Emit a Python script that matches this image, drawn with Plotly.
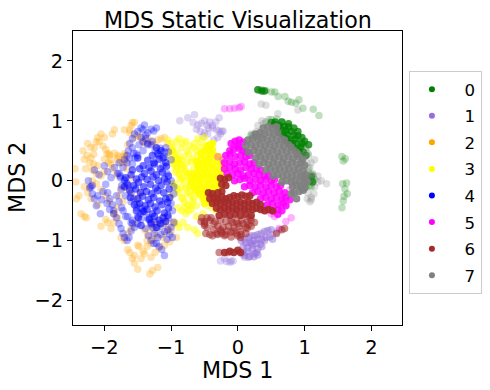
import plotly.graph_objects as go

labels = ["0", "1", "2", "3", "4", "5", "6", "7"]
colors = ["green", "mediumpurple", "orange", "yellow", "blue", "magenta", "brown", "gray"]

x0 = [.305,.355,.42,.505,.555,.605,.705,.755,.805,.87,.915,.975,1.13,1.215,1.56,1.61,1.58,1.605,1.59,1.57,1.63,1.64,1.58,1.56,
      .22,.28,.36,.42,.5,.58,.66,.9,.98,1.02,1.05,1.06,1.1,1.08,1.12,1.1,1.0,.95,.2,.27,.33,1.13,1.15,1.08,1.02,.96]
y0 = [1.52,1.52,1.505,1.48,1.48,1.405,1.405,1.325,1.31,1.295,1.35,1.21,1.195,1.09,.405,.365,.33,-.14,-.26,-.05,-.04,-.22,-.34,-.45,
      .75,.76,.78,.98,1.02,1.03,.98,.68,.62,.55,.45,.2,.1,0,-.02,-.1,-.12,.55,.76,.74,.72,.08,.02,-.08,-.1,-.14]
x0d = [.3,.36,.4,.56,.62,.66,.7,.72,.76,.66,.74,.8,.84,.86,.9,.96,.62,.7,.78,.82,1.0,1.06,.76,.84,.9,.96,.72,.78,.88,.94,.86,.92,.98,1.02,.8,.74,.68,.5,.55,.6,1.1,1.12]
y0d = [1.52,1.5,1.5,.98,.92,.98,.9,.84,.9,.85,.78,.82,.76,.7,.75,.62,.8,.72,.68,.62,.66,.6,.95,.88,.82,.72,.66,.62,.62,.56,.54,.5,.48,.42,.58,.7,.76,.97,.94,.9,.07,-.02]

x1 = [-.87,-.75,-.65,-.67,-.6,-.55,-.5,-.46,-.42,-.38,-.32,-.28,-.24,-.62,-.56,-.5,-.44,-.38,-.33,-.28,-.26,-.22,-.3,-.36,-.45,-.52,
      -.26,-.17,-.1,-.07,-.12,.06,.1,.62,.58,.52,-.2]
y1 = [1.0,1.05,1.1,.97,.93,.96,1.0,.92,.98,.88,.85,.83,.82,.86,.82,.8,.88,.92,.98,1.05,.78,.83,.72,.68,.78,.74,
      -1.34,-1.35,-1.34,-1.34,-1.36,-1.22,-1.28,-.82,-.86,-.9,-1.3]
x1d = [.05,.1,.16,.2,.25,.3,.35,.4,.45,.5,.12,.18,.24,.3,.36,.42,.48,.08,.14,.22,.28,.34,.4,.52,.08,.15,.22,.3,.36,.1,.18,.25,.3,.16,.24,.28,.2]
y1d = [-1.0,-.98,-.95,-.92,-.92,-.9,-.88,-.85,-.83,-.82,-1.04,-1.03,-1.0,-.98,-.98,-.95,-.94,-1.1,-1.12,-1.08,-1.05,-1.06,-1.0,-.98,-1.2,-1.18,-1.15,-1.14,-1.1,-1.25,-1.26,-1.22,-1.24,-1.28,-1.27,-1.2,-1.05]

x2 = [-2.44,-2.43,-2.42,-2.38,-2.35,-2.3,-2.27,-2.22,-2.2,-2.16,-2.15,-2.12,-2.1,-2.08,-2.05,-2.0,-1.96,-1.92,-1.9,-1.88,-1.85,-1.8,-1.78,-1.72,-1.7,-1.68,-1.65,-1.62,-1.6,-1.58,-1.55,-1.5,-1.45,-1.42,-1.38,-1.35,-1.3,-1.25,-1.2,-1.15,-1.1,-1.05,-1.0,-.95,-.92,-1.62,-1.65,-1.58,-1.55,-1.5,-1.2,-1.28,-1.32,
      -2.28,-2.22,-2.18,-2.12,-2.05,-2.0,-1.94,-1.88,-1.82,-1.76,-1.7,-2.3,-2.25,-2.2,-2.1,-1.98,-1.9,-1.85,-2.32,-2.26,-2.3,-2.18,-2.12,-2.05,-1.98,-1.92,-1.75,-1.7,-1.65,-1.6,-1.54,-1.48,-1.42,-1.36,-1.3,-1.24,-1.18,-1.12,-1.06,-1.0,-1.78,-1.72,-1.82,-1.86,-1.75,-1.4,-1.35,-1.28,-1.22,
      -2.25,-2.2,-2.16,-2.02,-1.98,-1.93,-1.85,-1.8,-1.7,-1.66,-1.6,-1.7,-1.62,-1.55,-2.1,-2.0,-1.9,-1.95,-2.05,-1.8,-1.86,-1.3,-1.2,-1.1,-1.04,-.96,-1.66,-1.6,-1.52,-1.45,-1.36,-1.26,-1.16,-1.08,-1.55,-1.45,-1.4,-1.3,-1.5,-1.1,-1.02]
y2 = [.2,-.02,-.3,-.25,-.55,-.6,-.62,-.1,.38,.28,.55,.65,.72,.65,.78,.72,.45,.42,.35,.78,.85,.42,.4,.3,.45,.32,.6,.85,.92,.97,.97,.75,.72,.65,.62,.7,.65,.6,.68,.7,.72,.62,.5,-.72,-.95,-1.2,-1.15,-1.3,-1.38,-1.48,-1.45,-1.5,-1.56,
      .2,.3,.18,.12,.08,.15,.3,.2,.1,.3,.4,-.1,-.2,-.3,-.4,-.65,-.8,-.55,.5,.42,.36,.0,-.05,-.15,-.25,-.35,-.95,-1.0,-.88,-.8,-.72,-1.1,-1.18,-1.1,-1.05,-1.2,-1.12,-.95,-.85,-.85,-.25,-.35,-.45,-.55,-.12,-.82,-.9,-.98,-.92,
      .62,.56,.44,.58,.52,.45,.46,.36,.42,.2,.05,.85,.8,.72,.25,.36,.28,-.7,-.76,-.62,-.7,-.75,-.7,-.62,-.78,-.68,-.12,-.22,-.3,-.2,-1.0,-.82,-.76,-.68,-1.25,-1.3,-1.22,-1.28,-1.08,-1.08,-1.02]

x3 = [-1.05,-1.0,-.97,-.92,-.88,-.85,-.82,-.78,-.72,-.65,-.6,-.55,-.5,-.46,-.42,-1.02,-.98,-.94,-.9,-.85,-.8,-.74,-.68,-.62,-.98,-.92,-.88,-.82,-.76,-.7,-.94,-.88,-.84,-.78,-.72,-.66,-.86,-.8,-.76,-.7,-.64,-.84,-.78,-.72,-.66,-.58,-.76,-.7,-.63,-.55,-.48,-.42,-.36,-.95,-.9,-.82,-.75,-.68,-.62,-1.0,-.9,-.84,-.78,-.7,-.62,-.52,-.45,-.38,-.32,
      -.92,-.88,-.82,-.75,-.65,-.6,
      -.98,-.94,-.9,-.96,-.92,-.88,-.84,-.9,-.86,-.8,-.76,-.98,-.92,-.88,-.84,-.8,-.72,-.72,-.66,-.8,-.74,-.7,-.76,-.66,-.6,-.56]
y3 = [.68,.62,.55,.65,.7,.55,.62,.66,.58,.62,.7,.65,.72,.5,.58,.42,.5,.38,.45,.35,.4,.45,.38,.5,.3,.25,.3,.25,.3,.32,.15,.1,.2,.15,.12,.2,.02,.0,.08,.05,.1,-.1,-.12,-.08,-.02,.0,-.2,-.25,-.18,-.25,-.22,-.3,-.28,-.05,-.15,-.3,-.4,-.35,-.42,-.25,-.45,-.5,-.55,-.48,-.6,-.55,-.42,-.45,-.5,
      -.72,-.78,-.7,-.78,-.82,-.88,
      .5,.42,.36,.28,.2,.12,.04,.34,.28,.2,.12,-.06,-.12,-.2,-.28,-.36,-.1,-.2,-.3,-.45,-.5,-.42,.5,.55,.42,.56]
x3d = [-.62,-.55,-.48,-.42,-.35,-.28,-.6,-.52,-.45,-.38,-.3,-.24,-.66,-.58,-.5,-.43,-.36,-.28,-.22,-.68,-.6,-.52,-.45,-.38,-.3,-.24,-.7,-.62,-.55,-.47,-.4,-.33,-.26,-.2,-.66,-.58,-.5,-.42,-.35,-.28,-.22,-.62,-.55,-.47,-.4,-.33,-.26,-.58,-.5,-.44,-.36,-.3,-.52,-.45,-.38,-.32,-.55,-.5,-.42,-.38,-.5,-.44,-.35,-.3,-.46,-.42,-.38]
y3d = [.32,.36,.38,.4,.42,.4,.25,.28,.3,.3,.32,.3,.12,.18,.2,.22,.2,.22,.22,.05,.1,.12,.12,.1,.14,.12,-.02,.02,.04,.04,.02,.05,.04,.04,-.1,-.06,-.05,-.06,-.04,-.05,-.05,-.15,-.13,-.14,-.12,-.13,-.12,-.22,-.2,-.22,-.2,-.2,-.3,-.3,-.28,-.28,.46,.5,.5,.52,-.38,-.36,-.36,-.34,.58,.6,.62]

x4 = [-2.24,-2.2,-2.18,-2.15,-2.12,-2.06,-2.02,-1.98,-1.95,-1.92,-1.88,-1.86,-1.82,-1.78,-1.75,-1.72,-1.7,-1.66,-1.63,-1.6,-1.58,-1.55,-1.5,-1.46,-1.42,-1.38,-1.34,-1.3,-1.26,-1.22,-1.18,-1.14,-1.1,-1.06,-1.02,-.98,-.96,
      -2.15,-2.08,-2.0,-1.95,-1.9,-1.85,-1.8,-1.76,-1.7,-1.64,-1.6,-1.56,-1.5,-1.45,-1.4,-1.35,-1.3,-1.28,-1.25,-1.2,-1.15,-1.1,-1.05,-1.0,-1.62,-1.58,-1.55,-1.5,-1.45,-1.42,-1.4,-1.35,-1.3,-1.38,-1.26,-1.22,
      -1.7,-1.66,-1.64,-1.58,-1.52,-1.48,-1.42,-1.38,-1.3,-1.24,-1.18,-2.22,-2.18,-2.1,-2.04,-1.96,-1.92,-1.86,-1.82,-1.78,-1.74,-1.68,-1.6,-1.12,-1.06,-1.0,-.96,-.96,
      -1.75,-1.68,-1.6,-1.52,-1.45,-1.72,-1.65,-1.58,-1.5,-1.0,-1.04,-1.1,-1.08,-1.78,-1.72,-1.66,-1.58,-1.54,-1.45,-1.35,
      -1.04,-.98,-1.0,-1.12,-1.2,-1.25,-1.32,-1.74,-1.76,-1.7,-1.78,-1.1,-1.16,-1.42,-1.5,-1.56,-1.62,-1.35,-1.28]
y4 = [.0,-.1,-.22,-.3,-.42,-.55,-.18,-.06,-.2,-.3,-.4,-.5,-.62,-.72,-.8,-.88,-.95,-1.0,-.95,-.84,-.72,-.78,-.6,-.55,-.5,-.8,-.92,-1.0,-1.05,-1.05,-1.1,-1.15,-1.25,-.98,-.9,-.95,-.7,
      .18,.1,.25,.15,.05,.22,.12,.08,.02,-.08,-.2,-.3,-.4,-.46,-.52,-.62,-.7,-.78,-.88,-.95,-.9,-.85,-.82,-.78,.62,.7,.78,.82,.88,.85,.93,.8,.86,.76,.83,.88,
      .35,.42,.5,.55,.45,.6,.65,.7,.6,.5,.42,-.12,-.08,-.25,-.32,-.38,-.48,-.55,-.25,-.35,-.45,-.6,-.7,.25,.12,.0,-.1,-.22,
      -.15,-.25,-.35,-.45,-.65,-.5,-.6,-.66,-.72,.35,.48,.4,.55,.3,.22,.3,.28,.38,.72,.62,
      -.62,-.5,-.38,-.72,-.78,-.68,-.62,-.08,.05,.0,.12,.48,.54,.5,.42,.46,.38,.6,.66]
x4d = [-1.22,-1.15,-1.28,-1.2,-1.12,-1.35,-1.26,-1.18,-1.08,-1.5,-1.42,-1.33,-1.25,-1.16,-1.07,-1.58,-1.47,-1.4,-1.3,-1.22,-1.13,-1.04,-1.68,-1.6,-1.52,-1.44,-1.36,-1.27,-1.19,-1.1,-1.66,-1.56,-1.49,-1.41,-1.31,-1.23,-1.15,-1.06,-1.7,-1.62,-1.53,-1.46,-1.37,-1.29,-1.2,-1.11,-1.03,-1.61,-1.5,-1.43,-1.34,-1.26,-1.17,-1.08,-1.55,-1.47,-1.39,-1.31,-1.24,-1.14,-1.05,-1.02,-1.52,-1.42,-1.36,-1.28,-1.21,-1.1,-1.04,-1.49,-1.33,-1.25,-1.18,-1.12,-1.05,-1.45,-1.3,-1.22,-1.16,-1.08]
y4d = [.55,.5,.42,.45,.38,.34,.3,.36,.3,.38,.25,.22,.28,.2,.24,.18,.2,.12,.16,.1,.14,.08,.05,.1,.03,.06,.02,.06,.0,.03,-.05,-.08,-.03,-.1,-.06,-.12,-.08,-.02,-.1,-.16,-.14,-.2,-.18,-.22,-.17,-.2,-.14,-.28,-.3,-.26,-.32,-.28,-.34,-.3,-.4,-.38,-.42,-.38,-.44,-.4,-.36,-.28,-.5,-.52,-.48,-.55,-.5,-.54,-.46,-.62,-.65,-.6,-.66,-.62,-.58,-.75,-.72,-.78,-.72,-.68]

x5 = [-.2,-.12,-.05,.02,.05,-.3,-.22,.65,.72,.78,.36,.42,.5,.55,.8,.72,.62,-.05,.0,.06,.68]
y5 = [1.2,1.2,1.21,1.22,1.24,.4,.35,-.35,-.4,-.15,-.45,-.5,-.55,-.6,-.62,-.68,-.8,.58,.62,.5,-.25]
x5d = [-.1,-.04,.02,.08,.0,-.12,-.06,.02,.08,.14,-.18,-.12,-.04,.04,.12,.18,-.2,-.12,-.05,.03,.1,.18,.24,-.2,-.12,-.04,.04,.12,.2,.28,.34,-.16,-.08,.0,.08,.16,.24,.32,.4,.46,-.05,.03,.1,.18,.26,.34,.42,.5,.55,.1,.18,.26,.34,.42,.5,.58,.64,.22,.3,.38,.46,.54,.62,.7,.34,.42,.5,.58,.66,.72,.44,.52,.6,.68,.52,.6,.66,.72,.78,.6]
y5d = [.62,.66,.68,.64,.58,.5,.52,.54,.5,.48,.42,.44,.4,.42,.4,.42,.3,.32,.28,.3,.32,.28,.3,.2,.22,.2,.18,.22,.2,.2,.18,.12,.1,.12,.08,.1,.12,.1,.08,.1,.0,.02,.04,.0,.02,.0,.02,.0,.02,-.1,-.08,-.1,-.08,-.1,-.08,-.1,-.08,-.2,-.18,-.2,-.18,-.2,-.18,-.2,-.3,-.28,-.3,-.28,-.3,-.28,-.4,-.38,-.4,-.38,-.5,-.48,-.5,-.42,-.32,-.56]

x6 = [-.55,-.5,-.48,-.42,-.38,-.32,-.5,-.46,-.4,-.36,-.3,-.25,.58,.66,.7,-.28,.04,.18,.25,.12,.0,-.14,-.54,-.46,-.36,-.26,-.16,-.06,.04,.14,-.2,-.1,
      -.5,-.42,-.34,-.26,-.18,-.1,-.02,.06,.14,.2,-.3,-.22,-.14,-.06,.02,.12,.2,-.24,-.18,-.1,-.02,.05,.0,-.08,.08,.16]
y6 = [-.68,-.72,-.88,-.9,-.92,-.88,-.75,-.62,-.62,-.72,-.9,-.85,-.88,-.82,-.8,-1.2,-.95,-.62,-.7,-.88,-.92,-1.2,-.62,-.78,-.82,-.82,-.84,-.84,-.85,-.8,-.92,-.94,
      -.68,-.66,-.68,-.66,-.68,-.66,-.68,-.66,-.68,-.66,-.76,-.78,-.76,-.78,-.76,-.78,-.76,-.88,-.9,-.86,-.88,-.9,-.72,-.7,-.72,-.74]
x6d = [-.26,-.2,-.14,-.24,-.18,-.44,-.38,-.3,-.24,-.42,-.36,-.3,-.24,-.18,-.12,-.06,.0,.06,.12,.18,-.38,-.32,-.26,-.2,-.14,-.08,-.02,.04,.1,.16,.22,.28,.34,-.32,-.26,-.2,-.14,-.08,-.02,.04,.1,.16,.22,.28,.34,.4,.46,.52,-.28,-.2,-.12,-.04,.04,.12,.2,-.2,-.12,-.06,.0,.04]
y6d = [.04,.02,.05,-.06,-.08,-.2,-.22,-.2,-.18,-.3,-.28,-.3,-.27,-.3,-.28,-.25,-.27,-.24,-.26,-.25,-.38,-.36,-.38,-.36,-.38,-.36,-.38,-.36,-.38,-.36,-.38,-.36,-.4,-.46,-.48,-.46,-.48,-.46,-.48,-.46,-.48,-.46,-.48,-.46,-.48,-.5,-.48,-.5,-.58,-.56,-.58,-.56,-.58,-.56,-.58,-1.2,-1.18,-1.2,-1.16,-1.2]

x7 = [.35,.42,.6,.9,1.15,1.2,1.12,1.08,1.25,1.33,1.15,1.2,.98,1.04,1.1,1.14,1.05,1.1,.3,.38,.2,.28,.95,1.02,1.08,1.02,1.06,1.1,1.04,1.08,1.12,1.0,1.05,.36,.46]
y7 = [1.28,1.26,1.12,1.18,.35,.08,.1,.03,.0,-.05,-.1,-.02,-.1,-.3,-.32,-.22,-.2,-.28,.92,.95,.78,.82,.05,.02,-.35,.5,.42,.3,.3,.22,.12,.4,.15,1.0,1.02]
x7d = [.38,.45,.52,.58,.26,.33,.4,.47,.54,.6,.15,.22,.3,.37,.44,.51,.58,.65,.7,.12,.2,.27,.34,.41,.48,.55,.62,.69,.76,.8,.16,.24,.31,.38,.45,.52,.59,.66,.73,.8,.87,.9,.27,.34,.41,.48,.55,.62,.69,.76,.83,.9,.97,.32,.39,.46,.53,.6,.67,.74,.81,.88,.95,1.0,.42,.49,.56,.63,.7,.77,.84,.91,.98,.53,.6,.67,.74,.81,.88,.95,1.0,.66,.73,.8,.86,.93,.99,.82,.88,.94,1.0,.84,.92,.98,.8,.88,1.02,1.04]
y7d = [.88,.9,.88,.9,.78,.8,.78,.8,.78,.8,.68,.7,.68,.7,.68,.7,.68,.7,.68,.58,.6,.58,.6,.58,.6,.58,.6,.58,.6,.56,.48,.5,.48,.5,.48,.5,.48,.5,.48,.5,.48,.44,.38,.4,.38,.4,.38,.4,.38,.4,.38,.4,.36,.28,.3,.28,.3,.28,.3,.28,.3,.28,.3,.26,.18,.2,.18,.2,.18,.2,.18,.2,.16,.08,.1,.08,.1,.08,.1,.08,.06,-.02,.0,-.02,.0,-.02,-.04,-.1,-.08,-.1,-.12,-.2,-.18,-.16,-.22,-.3,.1,-.02]

sparse = [(x0,y0),(x1,y1),(x2,y2),(x3,y3),(x4,y4),(x5,y5),(x6,y6),(x7,y7)]
dense = [(x0d,y0d),(x1d,y1d),None,(x3d,y3d),(x4d,y4d),(x5d,y5d),(x6d,y6d),(x7d,y7d)]
sparse_alpha = [.25,.3,.3,.5,.3,.3,.55,.25]
dense_alpha = [.75,.5,0,.9,.55,.85,.9,.9]

fig = go.Figure()
for i in range(8):
    fig.add_trace(go.Scatter(x=sparse[i][0], y=sparse[i][1], mode="markers", showlegend=False, hoverinfo="skip",
                             marker=dict(color=colors[i], size=7.5, opacity=sparse_alpha[i], line_width=0)))
    if dense[i]:
        fig.add_trace(go.Scatter(x=dense[i][0], y=dense[i][1], mode="markers", showlegend=False, hoverinfo="skip",
                                 marker=dict(color=colors[i], size=7.5, opacity=dense_alpha[i], line_width=0)))
for i in range(8):
    fig.add_trace(go.Scatter(x=[None], y=[None], mode="markers", name="\u00a0\u00a0" + labels[i], legendgroup=labels[i],
                             marker=dict(color=colors[i], size=6, line_width=0)))

axis = dict(showgrid=False, zeroline=False, showline=True, linecolor="black", linewidth=1.1, mirror=True, automargin=False,
            ticks="outside", ticklen=5, tickwidth=1.1, tickcolor="black", tickvals=[-2,-1,0,1,2],
            tickfont=dict(size=19.4))
fig.update_layout(
    width=490, height=390, autosize=False,
    paper_bgcolor="white", plot_bgcolor="white",
    font=dict(family="DejaVu Sans", color="black"),
    margin=dict(l=73, r=88, t=31, b=65, autoexpand=False),
    title=dict(text="MDS Static Visualization", x=0.4855, xanchor="center", y=0.949, yanchor="middle", font=dict(size=22.2)),
    xaxis=dict(axis, range=[-2.47, 2.46]),
    yaxis=dict(axis, range=[-2.41, 2.5]),
    legend=dict(x=1.021, xanchor="left", y=0.485, yanchor="middle", bordercolor="#cccccc", borderwidth=1,
                font=dict(size=16.6), tracegroupgap=2, itemwidth=34, bgcolor="white"),
    annotations=[
        dict(text="MDS 1", xref="paper", yref="paper", x=0.5, y=0, yshift=-45, yanchor="middle", showarrow=False, borderpad=0, font=dict(size=22.2)),
        dict(text="MDS 2", xref="paper", yref="paper", x=0, y=0.5, xshift=-56, xanchor="center", yanchor="middle", textangle=-90, showarrow=False, font=dict(size=22.2)),
    ],
)
fig.write_html("out.html", post_script="document.body.style.margin='0';", config=dict(displayModeBar=False))
